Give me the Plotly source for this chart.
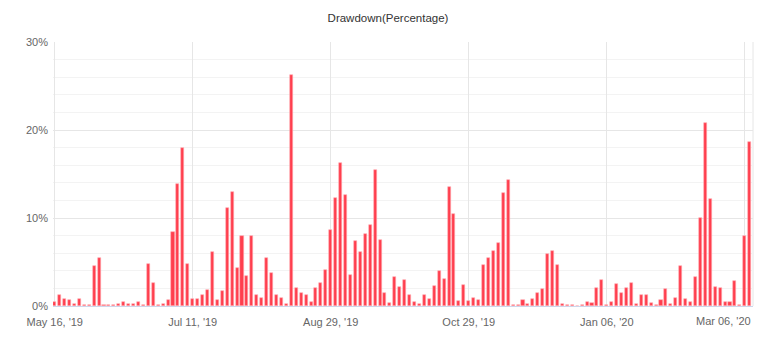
import plotly.graph_objects as go

# Drawdown per period, in percent
drawdown = [
    0.5, 1.2, 0.85, 0.7, 0.27, 0.85, 0.08, 0.15, 4.6, 5.5,
    0.08, 0.15, 0.15, 0.27, 0.4, 0.27, 0.27, 0.5, 0.15, 4.8,
    2.65, 0.08, 0.27, 0.7, 8.45, 13.9, 17.9, 4.8, 0.75, 0.8,
    1.2, 1.8, 6.1, 0.7, 1.7, 11.1, 12.9, 4.3, 7.9, 3.4,
    7.9, 1.2, 0.9, 5.5, 3.7, 1.3, 0.9, 0.2, 26.2, 2.0,
    1.45, 1.3, 0.4, 2.0, 2.6, 4.05, 8.6, 12.3, 16.2, 12.65,
    3.5, 7.4, 6.1, 8.2, 9.2, 15.5, 7.5, 1.5, 0.35, 3.3,
    2.2, 3.0, 1.2, 0.4, 0.27, 1.25, 0.85, 2.3, 4.0, 3.1,
    13.55, 10.5, 0.6, 2.4, 0.6, 0.9, 0.65, 4.7, 5.5, 6.2,
    7.2, 12.8, 14.3, 0.08, 0.08, 0.65, 0.2, 0.75, 1.45, 1.9,
    5.9, 6.3, 4.7, 0.2, 0.08, 0.08, 0.0, 0.08, 0.4, 0.3,
    2.05, 3.0, 0.1, 0.5, 2.45, 1.45, 2.1, 2.6, 0.2, 1.2,
    1.3, 0.35, 0.1, 0.65, 1.9, 0.2, 0.9, 4.5, 0.75, 0.45,
    3.25, 9.95, 20.75, 12.2, 2.2, 2.0, 0.5, 0.45, 2.8, 0.1,
    8.0, 18.6,
]

# Date labels, one every 28 periods
tick_labels = ["May 16, '19", "Jul 11, '19", "Aug 29, '19",
               "Oct 29, '19", "Jan 06, '20", "Mar 06, '20"]
tick_step = 28

y_ticks = [0, 10, 20, 30]
y_labels = [f"{v}%" for v in y_ticks]

x = list(range(len(drawdown)))
tick_pos = [i * tick_step for i in range(len(tick_labels))]

FONT = "Liberation Sans, Arial, sans-serif"
GRID = "#e6e6e6"

fig = go.Figure(
    go.Bar(
        x=x,
        y=drawdown,
        width=0.62,
        marker=dict(color="#ff3f4e",
                    line=dict(color="rgba(255,175,180,0.9)", width=0.6)),
        hovertemplate="%{y:.2f}%<extra></extra>",
    )
)

# last label is pulled left so it stays inside the chart
ticktext = tick_labels[:-1] + [""]

fig.update_layout(
    width=776,
    height=344,
    margin=dict(l=53, r=23, t=42, b=38),
    paper_bgcolor="white",
    plot_bgcolor="white",
    showlegend=False,
    bargap=0,
    title=dict(text="Drawdown(Percentage)", x=0.5, xanchor="center",
               y=1 - 18 / 344, yanchor="middle",
               font=dict(family=FONT, size=11.5, color="#333333")),
    font=dict(family=FONT, size=11, color="#666666"),
    xaxis=dict(
        range=[-0.35, len(drawdown) - 0.33],
        tickmode="array",
        tickvals=tick_pos,
        ticktext=ticktext,
        showgrid=True,
        gridcolor=GRID,
        gridwidth=1,
        showline=True,
        linecolor="#ccd6eb",
        linewidth=1,
        ticks="",
        ticklabelstandoff=6,
        zeroline=False,
        tickfont=dict(family=FONT, size=11, color="#666666"),
    ),
    yaxis=dict(
        range=[0, 30],
        tickmode="array",
        tickvals=y_ticks,
        ticktext=y_labels,
        showgrid=True,
        gridcolor=GRID,
        gridwidth=1,
        zeroline=False,
        ticks="",
        ticklabelstandoff=4,
        tickfont=dict(family=FONT, size=11, color="#666666"),
        minor=dict(dtick=2, showgrid=True, gridcolor="#f3f3f3", gridwidth=1),
    ),
    annotations=[
        dict(x=tick_pos[-1], y=0, xref="x", yref="paper",
             text=tick_labels[-1], showarrow=False,
             xanchor="center", yanchor="top", xshift=-21, yshift=-7,
             font=dict(family=FONT, size=11, color="#666666")),
    ],
    shapes=[
        dict(type="line", xref="paper", yref="paper", x0=1, x1=1, y0=0, y1=1,
             line=dict(color=GRID, width=1), layer="below"),
    ],
)

fig.write_html("out.html")
